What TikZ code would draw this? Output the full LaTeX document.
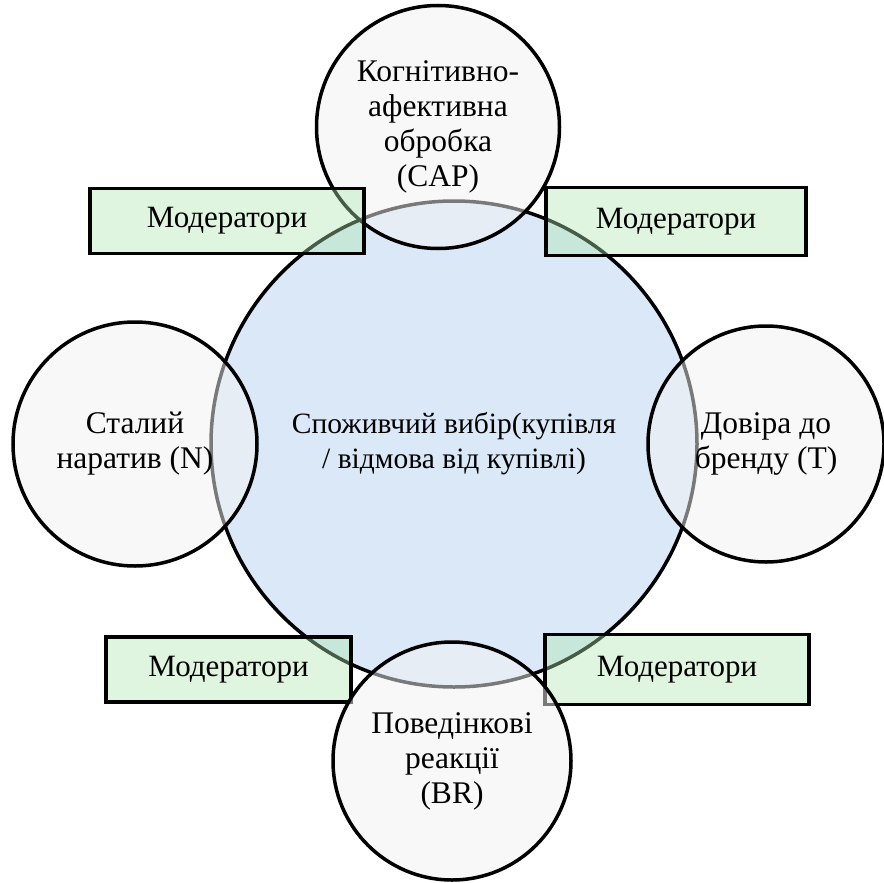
\documentclass[tikz,border=0pt]{standalone}
\usepackage{fontspec}
\setmainfont{Liberation Serif}
\definecolor{bigblue}{RGB}{218,232,247}
\definecolor{smallgray}{RGB}{242,242,242}
\definecolor{modgreen}{RGB}{175,230,177}
\begin{document}
\begin{tikzpicture}[x=1pt,y=-1pt,
  txt/.style={font=\fontsize{31.5}{35}\selectfont, align=center},
  bigcirc/.style={circle, draw=black, line width=3.5pt, fill=bigblue, inner sep=0pt,
    minimum size=486pt, txt, font=\fontsize{29.5}{35}\selectfont},
  smallcirc/.style={circle, draw=black, line width=3.5pt, fill=smallgray, fill opacity=0.5,
    text opacity=1, inner sep=0pt, txt},
  modbox/.style={rectangle, draw=black, line width=3.5pt, fill=modgreen, fill opacity=0.4,
    text opacity=1, inner sep=0pt, txt, font=\fontsize{31}{35}\selectfont}
]
\useasboundingbox (0,0) rectangle (884,883);
\node[bigcirc] (big) at (454,444) {Споживчий вибір(купівля\\/ відмова від купівлі)};
\node[smallcirc, minimum size=243pt] (cap) at (438,127) {Когнітивно-\\афективна\\обробка\\(CAP)};
\node[smallcirc, minimum size=244pt] (n) at (135,444) {Сталий\\наратив (N)};
\node[smallcirc, minimum size=236pt] (t) at (766,444) {Довіра до\\бренду (T)};
\node[modbox, minimum width=274pt, minimum height=65pt] (m1) at (227,221) {Модератори};
\node[modbox, minimum width=260pt, minimum height=68pt] (m2) at (676,221.5) {Модератори};
\node[modbox, minimum width=245pt, minimum height=65pt] (m3) at (228.5,669.5) {Модератори};
\node[modbox, minimum width=264pt, minimum height=70pt] (m4) at (677,669.5) {Модератори};
\node[smallcirc, minimum size=238pt] (br) at (452,761) {Поведінкові\\реакції\\(BR)};
\end{tikzpicture}
\end{document}
